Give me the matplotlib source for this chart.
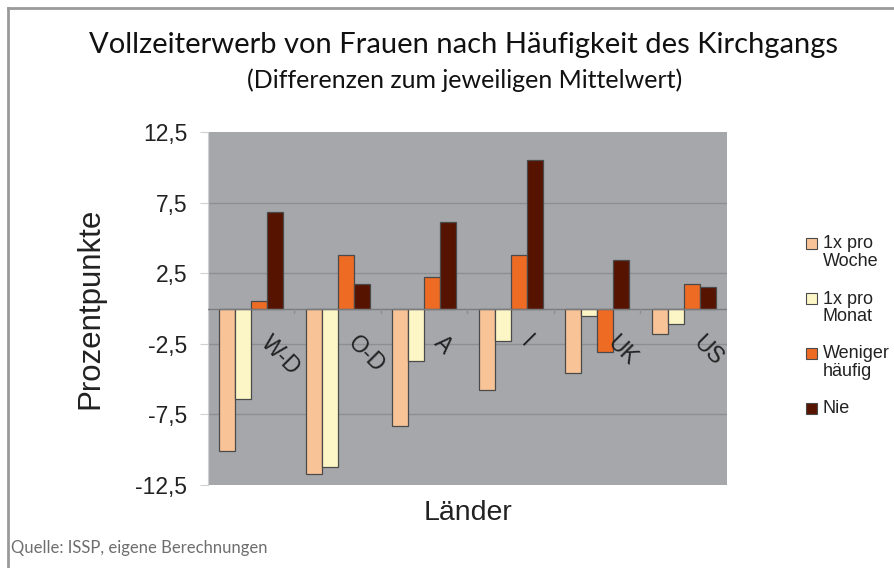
import matplotlib
matplotlib.use("Agg")
import matplotlib.pyplot as plt
import numpy as np
from matplotlib.patches import Rectangle
from matplotlib.lines import Line2D

countries = ["W-D", "O-D", "A", "I", "UK", "US"]
series_names = ["1x pro\nWoche", "1x pro\nMonat", "Weniger\nhäufig", "Nie"]
woche = [-10.1, -11.7, -8.3, -5.8, -4.6, -1.8]
monat = [-6.4, -11.2, -3.7, -2.3, -0.5, -1.1]
weniger = [0.5, 3.8, 2.2, 3.8, -3.1, 1.7]
nie = [6.8, 1.7, 6.1, 10.5, 3.4, 1.5]
yticks = [12.5, 7.5, 2.5, -2.5, -7.5, -12.5]
ytick_labels = ["12,5", "7,5", "2,5", "-2,5", "-7,5", "-12,5"]
colors = ["#f8c497", "#fcf6c6", "#ee6b24", "#561300"]

SANS = "Liberation Sans"
W, H = 895, 568
fig = plt.figure(figsize=(W / 100, H / 100), dpi=100)
fig.patch.set_facecolor("white")

# outer frame (top and left edges)
fig.add_artist(Line2D([8 / W, 1], [1 - 8 / H, 1 - 8 / H], color="#9a9a9a", lw=2, transform=fig.transFigure))
fig.add_artist(Line2D([8 / W, 8 / W], [0, 1 - 8 / H], color="#9a9a9a", lw=2, transform=fig.transFigure))

ax = fig.add_axes([208 / W, 1 - 485 / H, (727 - 208) / W, (485 - 132) / H])
ax.set_facecolor("#a6a7ab")

x = np.arange(len(countries))
bw = 0.185
data = [woche, monat, weniger, nie]
for k, (vals, c) in enumerate(zip(data, colors)):
    ax.bar(x + (k - 1.5) * bw, vals, width=bw, color=c, edgecolor="#4a4a4a", linewidth=0.9, zorder=3)

ax.set_xlim(-0.5, len(countries) - 0.5)
ax.set_ylim(-12.5, 12.5)
ax.set_yticks(yticks)
ax.set_yticklabels(ytick_labels, fontsize=16.5, color="#222222", family=SANS)
for gy in [7.5, 2.5, -2.5, -7.5]:
    ax.axhline(gy, color="#8d8e92", lw=1.0, zorder=1)
ax.axhline(0, color="#7a7b7f", lw=1.0, zorder=4)
# category separator ticks on zero line
for b in np.arange(0.5, len(countries) - 0.5, 1.0):
    ax.plot([b, b], [0, -0.35], color="#8d8e92", lw=1.0, zorder=4)

ax.tick_params(axis="y", length=6, color="#d0d0d0", pad=9)
ax.set_xticks([])
for s in ax.spines.values():
    s.set_visible(False)
ax.spines["left"].set_visible(True)
ax.spines["left"].set_color("#d0d0d0")

for i, name in enumerate(countries):
    ax.text(i + 0.1, -2.5, name, rotation=-45, rotation_mode="anchor", ha="left", va="baseline",
            fontsize=16.5, family=SANS, color="#222222", zorder=5)

ax.set_ylabel("Prozentpunkte", fontsize=22.5, family=SANS, color="#222222")
ax.yaxis.set_label_coords((90 - 208) / (727 - 208), 0.5)
ax.set_xlabel("Länder", fontsize=20.5, family=SANS, color="#222222")
ax.xaxis.set_label_coords((468 - 208) / (727 - 208), -(513 - 485) / (485 - 132))
ax.xaxis.label.set_va("center")
ax.yaxis.label.set_va("center")

fig.text(464 / W, 1 - 45 / H, "Vollzeiterwerb von Frauen nach Häufigkeit des Kirchgangs",
         ha="center", va="center", fontsize=21, family="Lato", color="#111111")
fig.text(465 / W, 1 - 80 / H, "(Differenzen zum jeweiligen Mittelwert)",
         ha="center", va="center", fontsize=18, family="Lato", color="#111111")
fig.text(11 / W, 1 - 548 / H, "Quelle: ISSP, eigene Berechnungen", ha="left", va="center",
         fontsize=12, family="Lato", color="#6e6e6e")

# legend
ys = [243.5, 298.5, 353.5, 408]
for yc, c, name in zip(ys, colors, series_names):
    fig.add_artist(Rectangle((806 / W, 1 - (yc + 5.5) / H), 11 / W, 11 / H, facecolor=c,
                             edgecolor="#4a4a4a", lw=0.8, transform=fig.transFigure))
    fig.text(823 / W, 1 - (yc - 8) / H, name, ha="left", va="top", fontsize=13,
             family=SANS, color="#222222", linespacing=1.05)

fig.savefig("out.png", dpi=100)
